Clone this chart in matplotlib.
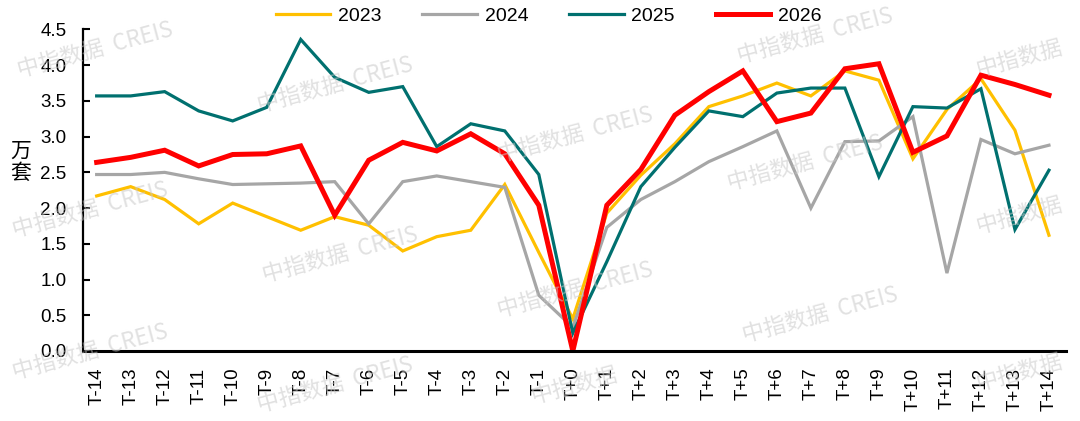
import matplotlib

matplotlib.use("Agg")
import matplotlib.pyplot as plt

plt.rcParams["font.family"] = ["Liberation Sans", "Noto Sans CJK SC", "DejaVu Sans"]

# Chart data (万套)
labels = [f"T-{i}" for i in range(14, 0, -1)] + ["T+0"] + [f"T+{i}" for i in range(1, 15)]

y2023 = [2.17, 2.30, 2.12, 1.78, 2.07, 1.88, 1.69, 1.88, 1.76, 1.40, 1.60, 1.69, 2.33, 1.38, 0.45,
         1.93, 2.46, 2.90, 3.42, 3.57, 3.75, 3.57, 3.92, 3.79, 2.69, 3.38, 3.81, 3.09, 1.62]
y2024 = [2.47, 2.47, 2.50, 2.41, 2.33, 2.34, 2.35, 2.37, 1.78, 2.37, 2.45, 2.37, 2.29, 0.78, 0.33,
         1.73, 2.12, 2.37, 2.65, 2.86, 3.08, 2.00, 2.93, 2.94, 3.28, 1.09, 2.96, 2.76, 2.88]
y2025 = [3.57, 3.57, 3.63, 3.36, 3.22, 3.41, 4.36, 3.83, 3.62, 3.70, 2.86, 3.18, 3.08, 2.47, 0.25,
         1.25, 2.30, 2.85, 3.36, 3.28, 3.61, 3.68, 3.68, 2.44, 3.42, 3.40, 3.67, 1.70, 2.53]
y2026 = [2.64, 2.71, 2.81, 2.59, 2.75, 2.76, 2.87, 1.90, 2.67, 2.92, 2.80, 3.04, 2.76, 2.04, 0.0,
         2.04, 2.54, 3.30, 3.63, 3.92, 3.21, 3.33, 3.95, 4.02, 2.78, 3.01, 3.86, 3.73, 3.58]

series = [
    ("2023", y2023, "#FFC000", 2.3),
    ("2024", y2024, "#A6A6A6", 2.3),
    ("2025", y2025, "#00706F", 2.3),
    ("2026", y2026, "#FF0000", 3.6),
]

fig = plt.figure(figsize=(10.8, 4.21), dpi=100)
ax = fig.add_axes([0.0769, 0.1663, 0.9101, 0.7637])

x = list(range(len(labels)))
for name, vals, color, lw in series:
    ax.plot(x, vals, color=color, linewidth=lw, label=name, solid_joinstyle="miter")

ax.set_xlim(-0.4, len(labels) - 0.5)
ax.set_ylim(0, 4.5)
ax.set_yticks([i * 0.5 for i in range(10)])
ax.set_yticklabels([f"{i * 0.5:.1f}" for i in range(10)], fontsize=13.5)
ax.set_xticks(x)
ax.set_xticklabels(labels, rotation=90, fontsize=13.5)
ax.tick_params(axis="x", length=0, pad=12)
ax.tick_params(axis="y", direction="in", length=5, width=1.5, pad=12)

for side in ["top", "right"]:
    ax.spines[side].set_visible(False)
ax.spines["left"].set_linewidth(1.6)
ax.spines["bottom"].set_linewidth(2.2)

fig.text(0.019, 0.615, "万\n套", fontsize=15, ha="center", va="center",
         family=["Noto Sans CJK SC", "DejaVu Sans"], linespacing=1.0)

fig.legend(loc="center", bbox_to_anchor=(0.508, 0.962), ncol=4, frameon=False,
           fontsize=14, handlelength=2.8, handletextpad=0.4, columnspacing=2.1)

# watermark (kept inside the canvas)
marks = [(95, 50, True), (335, 85, True), (815, 36, True), (1020, 58, False),
         (575, 135, True), (805, 163, True), (90, 210, True), (340, 255, True), (1020, 215, False),
         (575, 290, True), (820, 315, True), (90, 352, True), (335, 385, True), (575, 385, False),
         (1020, 372, False)]
for px, py, full in marks:
    txt = "中指数据  CREIS" if full else "中指数据"
    fig.text(px / 1080, 1 - py / 421, txt, fontsize=16, color="#c8c8c8", alpha=0.55,
             rotation=15, ha="center", va="center", family=["Noto Sans CJK SC", "DejaVu Sans"],
             zorder=10)

plt.savefig("out.png", dpi=100, facecolor="white")
plt.close()
